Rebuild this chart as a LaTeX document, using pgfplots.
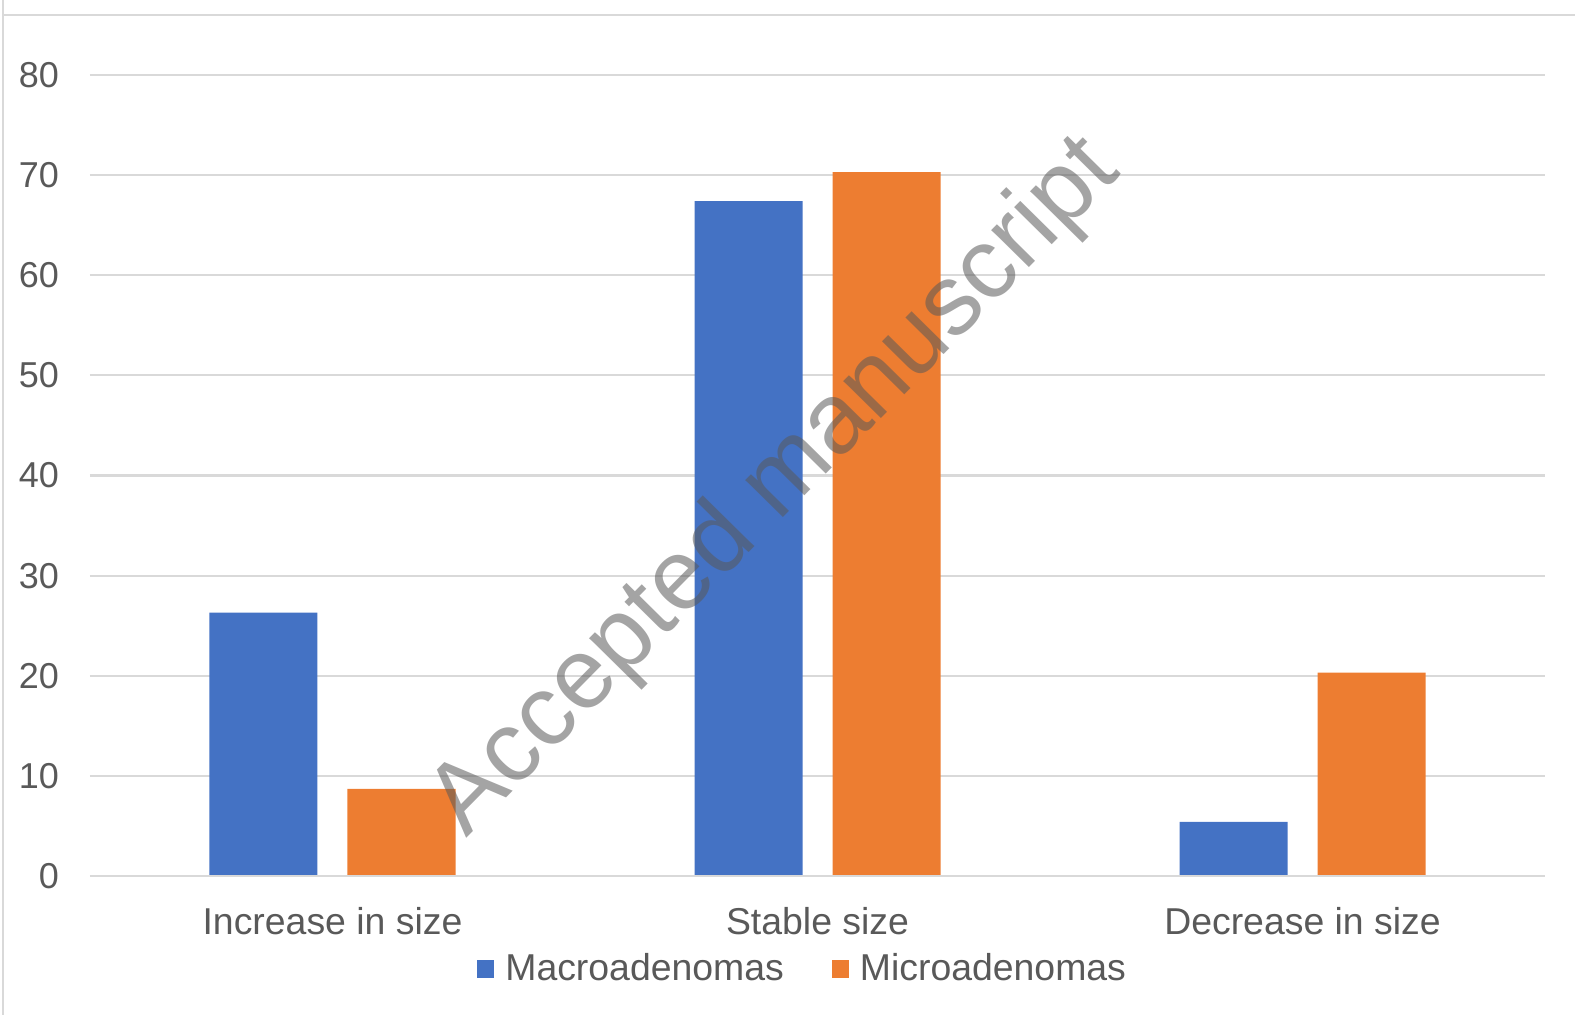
\documentclass[border=0pt]{standalone}
\usepackage{pgfplots}
\pgfplotsset{compat=1.18}
\usepackage{fontspec}
\setmainfont{Liberation Sans}
\definecolor{macro}{HTML}{4472C4}
\definecolor{micro}{HTML}{ED7D31}
\definecolor{txt}{HTML}{595959}
\definecolor{gridc}{HTML}{D9D9D9}
\begin{document}
\begin{tikzpicture}[x=1pt,y=1pt]
\useasboundingbox (-45,-69.5) rectangle (742.5,438);
\begin{axis}[
  scale only axis,
  width=727.5pt, height=400.5pt,
  ymin=0, ymax=80,
  xmin=-0.5, xmax=2.5,
  ytick={0,10,...,80},
  xtick={0,1,2},
  xticklabels={Increase in size, Stable size, Decrease in size},
  ybar=15pt, bar width=54pt,
  axis line style={draw=none},
  major tick length=0pt,
  xmajorgrids=false, ymajorgrids=true,
  major grid style={draw=gridc, line width=1pt},
  tick label style={text=txt},
  yticklabel style={font=\fontsize{18}{22}\selectfont, xshift=-12pt},
  xticklabel style={font=\fontsize{18.7}{22}\selectfont, yshift=-12pt},
  /pgf/number format/assume math mode=true,
  legend style={draw=none, font=\fontsize{18.7}{22}\selectfont, text=txt,
    at={(0.4905,-0.1155)}, anchor=center, legend columns=2,
    /tikz/every even column/.append style={column sep=22pt},
    /tikz/every odd column/.append style={column sep=0pt}},
  legend image code/.code={\fill[#1] (0pt,-4.5pt) rectangle (8.5pt,4.5pt);
    \path (12pt,0pt);},
  clip=false,
]
\addplot[fill=macro, draw=none] coordinates {(0,26.3) (1,67.4) (2,5.4)};
\addplot[fill=micro, draw=none] coordinates {(0,8.7) (1,70.3) (2,20.3)};
\legend{Macroadenomas, Microadenomas}
\draw[gridc, line width=1pt] (axis cs:-0.5,0) -- (axis cs:2.5,0);
\end{axis}
\node[rotate=45.4, text=black!65, opacity=0.55, font=\fontsize{50}{58}\selectfont]
  at (343,194) {Accepted manuscript};
\draw[gridc, line width=1.2pt] (-43.5,438) -- (-43.5,430.5) -- (742.5,430.5);
\draw[gridc, line width=1.2pt] (-43.5,-69.5) -- (-43.5,430.5);
\end{tikzpicture}
\end{document}
